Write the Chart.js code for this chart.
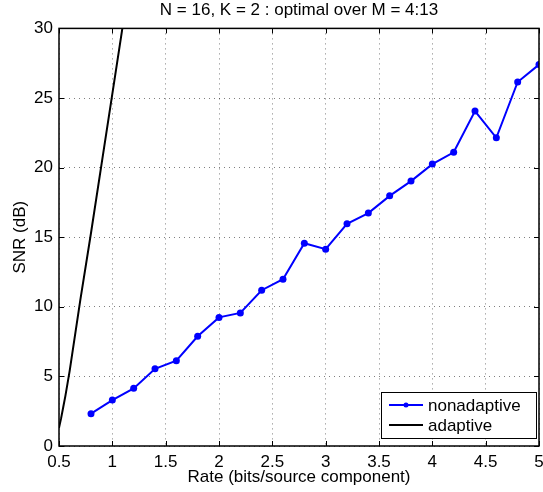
<!DOCTYPE html>
<html>
<head>
<meta charset="utf-8">
<script src="https://cdn.jsdelivr.net/npm/chart.js@4"></script>
<style>
  body { margin: 0; background: #fff; }
</style>
</head>
<body>
<canvas id="snrChart" width="543" height="492"></canvas>
<script>
// values
const rate = [0.8, 1.0, 1.2, 1.4, 1.6, 1.8, 2.0, 2.2, 2.4, 2.6, 2.8, 3.0, 3.2, 3.4, 3.6, 3.8, 4.0, 4.2, 4.4, 4.6, 4.8, 5.0];
const nonadaptive = [2.32, 3.30, 4.14, 5.55, 6.13, 7.88, 9.24, 9.56, 11.19, 11.98, 14.57, 14.14, 15.96, 16.73, 17.97, 19.03, 20.25, 21.1, 24.06, 22.14, 26.15, 27.4];
const adaptiveRate = [0.5, 0.52, 0.54, 0.56, 0.58, 0.6, 0.7, 0.8, 0.9, 1.0, 1.1];
const adaptive = [1.3, 2.0, 2.8, 3.6, 4.5, 5.4, 10.5, 15.3, 20.3, 25.3, 30.3];
const seriesLabels = ['nonadaptive', 'adaptive'];

const FONT = "'Liberation Sans', Arial, Helvetica, sans-serif";
Chart.defaults.font.family = FONT;
Chart.defaults.font.size = 17;
Chart.defaults.color = '#000';

// MATLAB style box with inward ticks on all four sides
const boxFrame = {
    id: 'boxFrame',
    afterDatasetsDraw(chart) {
        const { ctx, chartArea: a, scales } = chart;
        const len = 5;
        ctx.save();
        ctx.strokeStyle = '#000';
        ctx.lineWidth = 1;
        ctx.beginPath();
        scales.x.ticks.forEach(t => {
            const px = Math.round(scales.x.getPixelForValue(t.value)) + 0.5;
            ctx.moveTo(px, a.bottom); ctx.lineTo(px, a.bottom - len);
            ctx.moveTo(px, a.top); ctx.lineTo(px, a.top + len);
        });
        scales.y.ticks.forEach(t => {
            const py = Math.round(scales.y.getPixelForValue(t.value)) + 0.5;
            ctx.moveTo(a.left, py); ctx.lineTo(a.left + len, py);
            ctx.moveTo(a.right, py); ctx.lineTo(a.right - len, py);
        });
        ctx.stroke();
        ctx.lineWidth = 1.5;
        ctx.strokeRect(a.left, a.top, a.right - a.left, a.bottom - a.top);
        ctx.restore();
    }
};

// legend box in the lower right corner of the plot
const boxLegend = {
    id: 'boxLegend',
    afterDraw(chart) {
        const { ctx, chartArea: a } = chart;
        const w = 155, h = 46;
        const left = a.right - 3 - w;
        const top = a.bottom - 8 - h;
        ctx.save();
        ctx.fillStyle = '#fff';
        ctx.fillRect(left, top, w, h);
        ctx.strokeStyle = '#000';
        ctx.lineWidth = 1;
        ctx.strokeRect(left + 0.5, top + 0.5, w, h);
        ctx.font = '17px ' + FONT;
        ctx.textBaseline = 'middle';
        chart.data.datasets.forEach((ds, i) => {
            const y = top + 13 + i * 20;
            ctx.strokeStyle = ds.borderColor;
            ctx.lineWidth = 2;
            ctx.beginPath();
            ctx.moveTo(left + 8, y);
            ctx.lineTo(left + 42, y);
            ctx.stroke();
            if (ds.pointRadius > 0) {
                ctx.fillStyle = ds.borderColor;
                ctx.beginPath();
                ctx.arc(left + 25, y, 2.5, 0, Math.PI * 2);
                ctx.fill();
            }
            ctx.fillStyle = '#000';
            ctx.fillText(ds.label, left + 47, y + 1);
        });
        ctx.restore();
    }
};

const ctx = document.getElementById('snrChart').getContext('2d');
new Chart(ctx, {
    type: 'line',
    data: {
        datasets: [{
            label: seriesLabels[0],
            data: rate.map((x, i) => ({ x: x, y: nonadaptive[i] })),
            borderColor: '#0000ff',
            backgroundColor: '#0000ff',
            borderWidth: 2,
            pointRadius: 3.5,
            pointBorderWidth: 0,
            tension: 0
        }, {
            label: seriesLabels[1],
            data: adaptiveRate.map((x, i) => ({ x: x, y: adaptive[i] })),
            borderColor: '#000000',
            backgroundColor: '#000000',
            borderWidth: 2,
            pointRadius: 0,
            tension: 0
        }]
    },
    options: {
        responsive: false,
        animation: false,
        layout: { padding: { left: 0, right: 3, top: 0, bottom: 0 } },
        plugins: {
            legend: { display: false },
            tooltip: { enabled: false },
            title: {
                display: true,
                fullSize: false,
                text: 'N = 16, K = 2 : optimal over M = 4:13',
                color: '#000',
                font: { size: 17, weight: 'normal' },
                padding: { top: 0, bottom: 8 }
            }
        },
        scales: {
            x: {
                type: 'linear',
                min: 0.5,
                max: 5,
                ticks: {
                    stepSize: 0.5,
                    padding: 6,
                    maxRotation: 0,
                    autoSkip: false,
                    callback: v => String(Number(v.toFixed(2)))
                },
                grid: { color: 'rgba(0,0,0,0.5)', drawTicks: false },
                border: { display: false, dash: [1, 4] },
                title: {
                    display: true,
                    text: 'Rate (bits/source component)',
                    padding: { top: 0, bottom: 4 }
                },
                afterFit(s) { s.height = 46; s.paddingLeft = 0; s.paddingRight = 0; }
            },
            y: {
                min: 0,
                max: 30,
                ticks: { stepSize: 5, padding: 6 },
                grid: { color: 'rgba(0,0,0,0.5)', drawTicks: false },
                border: { display: false, dash: [1, 4] },
                title: {
                    display: true,
                    text: 'SNR (dB)',
                    padding: { top: 10, bottom: 0 }
                },
                afterFit(s) { s.width = 59; }
            }
        }
    },
    plugins: [boxFrame, boxLegend]
});
</script>
</body>
</html>
